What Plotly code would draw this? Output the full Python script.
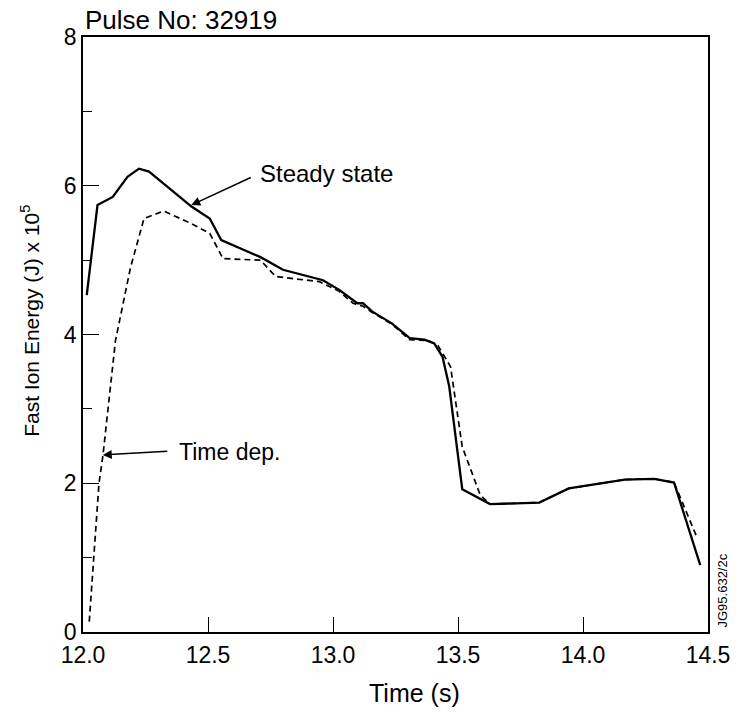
import plotly.graph_objects as go

# Steady state (solid)
ss_t = [12.015, 12.058, 12.119, 12.178, 12.224, 12.264, 12.434, 12.507, 12.553, 12.71, 12.80, 12.96,
        13.025, 13.097, 13.12, 13.156, 13.235, 13.307, 13.366, 13.405, 13.438, 13.465, 13.497, 13.517,
        13.628, 13.825, 13.943, 14.167, 14.285, 14.364, 14.469]
ss_e = [4.53, 5.74, 5.85, 6.12, 6.23, 6.19, 5.72, 5.56, 5.27, 5.04, 4.87, 4.73,
        4.60, 4.42, 4.42, 4.31, 4.15, 3.95, 3.93, 3.88, 3.70, 3.30, 2.45, 1.92,
        1.72, 1.74, 1.93, 2.05, 2.06, 2.01, 0.90]

# Time dependent (dashed)
td_t = [12.025, 12.064, 12.08, 12.13, 12.19, 12.244, 12.323, 12.434, 12.507, 12.56, 12.71, 12.77, 12.946,
        13.025, 13.08, 13.12, 13.156, 13.235, 13.307, 13.38, 13.42, 13.47, 13.517, 13.537, 13.589,
        13.628, 13.825, 13.943, 14.167, 14.285, 14.364, 14.455]
td_e = [0.14, 2.0, 2.38, 3.92, 4.9, 5.56, 5.66, 5.49, 5.36, 5.02, 5.00, 4.78, 4.71,
        4.58, 4.42, 4.38, 4.30, 4.14, 3.93, 3.92, 3.85, 3.57, 2.49, 2.31, 1.84,
        1.72, 1.74, 1.93, 2.05, 2.06, 2.01, 1.28]

x_ticks = [12.0, 12.5, 13.0, 13.5, 14.0, 14.5]
y_ticks = [0, 2, 4, 6, 8]

FONT = "Liberation Sans, Arial, sans-serif"

fig = go.Figure()
fig.add_trace(go.Scatter(x=ss_t, y=ss_e, mode="lines",
                         line=dict(color="black", width=2.3), showlegend=False))
fig.add_trace(go.Scatter(x=td_t, y=td_e, mode="lines",
                         line=dict(color="black", width=1.7, dash="6px,4px"), showlegend=False))

fig.update_layout(
    width=742, height=712,
    margin=dict(l=83, r=24, t=37, b=80),
    paper_bgcolor="white", plot_bgcolor="white",
    font=dict(family=FONT, color="black"),
    xaxis=dict(range=[12.0, 14.5], tickvals=x_ticks, ticktext=[f"{v:.1f}" for v in x_ticks],
               ticks="inside", ticklen=15, tickwidth=1.2, tickcolor="black",
               showline=True, linecolor="black", linewidth=1.5, mirror=True,
               showgrid=False, zeroline=False, ticklabelstandoff=2,
               tickfont=dict(size=23, family=FONT)),
    yaxis=dict(range=[0, 8], tickvals=y_ticks,
               ticks="inside", ticklen=16, tickwidth=1.2, tickcolor="black",
               minor=dict(ticks="inside", ticklen=9, dtick=1, tickwidth=1.2, tickcolor="black"),
               showline=True, linecolor="black", linewidth=1.5, mirror=True,
               showgrid=False, zeroline=False,
               tickfont=dict(size=23, family=FONT)),
)

# axis titles placed as text
fig.add_annotation(text="Time (s)", xref="paper", yref="paper",
                   x=0.531, y=0.0, xanchor="center", yanchor="middle", yshift=-61,
                   showarrow=False, font=dict(size=25, family=FONT))
fig.add_annotation(text="Fast Ion Energy (J) x 10<sup>5</sup>", xref="paper", yref="paper",
                   x=0.0, y=0.523, xanchor="center", yanchor="middle", xshift=-53,
                   textangle=-90, showarrow=False, font=dict(size=21, family=FONT))

fig.add_annotation(text="Pulse No: 32919", xref="paper", yref="paper", x=0.0, y=1.0,
                   xanchor="left", yanchor="bottom", yshift=0, showarrow=False,
                   font=dict(size=26, family=FONT))

fig.add_annotation(text="Steady state", x=12.70, y=6.17, xref="x", yref="y",
                   xanchor="left", yanchor="middle", showarrow=False,
                   font=dict(size=24, family=FONT))
fig.add_annotation(x=12.433, y=5.74, ax=12.677, ay=6.12, xref="x", yref="y",
                   axref="x", ayref="y", text="", showarrow=True,
                   arrowhead=2, arrowsize=1.2, arrowwidth=1.5, arrowcolor="black")

fig.add_annotation(text="Time dep.", x=12.374, y=2.42, xref="x", yref="y",
                   xanchor="left", yanchor="middle", showarrow=False,
                   font=dict(size=23, family=FONT))
fig.add_annotation(x=12.079, y=2.38, ax=12.343, ay=2.43, xref="x", yref="y",
                   axref="x", ayref="y", text="", showarrow=True,
                   arrowhead=2, arrowsize=1.2, arrowwidth=1.5, arrowcolor="black")

fig.add_annotation(text="JG95.632/2c", xref="paper", yref="paper", x=1.0, y=0.0,
                   xanchor="left", yanchor="bottom", xshift=4, yshift=2, textangle=-90,
                   showarrow=False, font=dict(size=13, family=FONT))

fig.write_html("out.html")
